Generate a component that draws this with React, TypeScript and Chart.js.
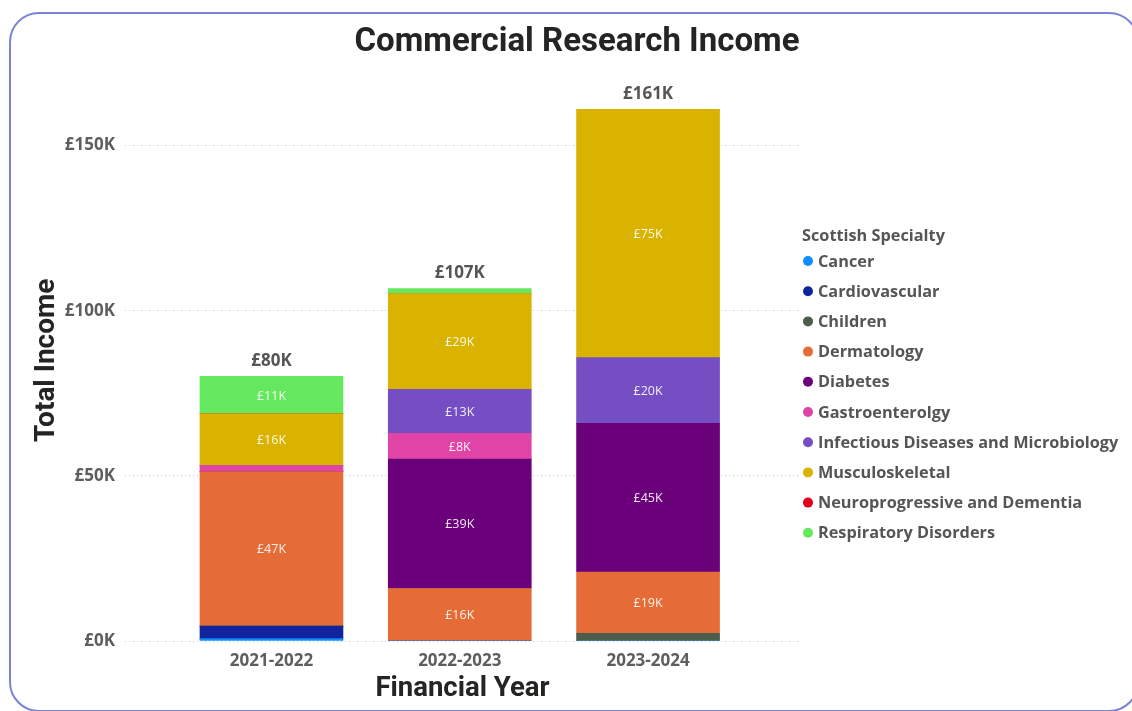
import React, { useEffect, useRef } from "react";
import { Chart, registerables } from "chart.js";

Chart.register(...registerables);

// ---- data (values in £ thousands) ----
const categories = ["2021-2022", "2022-2023", "2023-2024"];
const specialties = [
  "Cancer",
  "Cardiovascular",
  "Children",
  "Dermatology",
  "Diabetes",
  "Gastroenterolgy",
  "Infectious Diseases and Microbiology",
  "Musculoskeletal",
  "Neuroprogressive and Dementia",
  "Respiratory Disorders",
];
const specialtyColors = [
  "#118DFF",
  "#12239E",
  "#4A5E4B",
  "#E66C37",
  "#6B007B",
  "#E044A7",
  "#744EC2",
  "#D9B300",
  "#E3001A",
  "#66E85E",
];
const cancer = [0.7, 0, 0];
const cardiovascular = [3.8, 0, 0];
const children = [0, 0, 2.3];
const dermatology = [46.8, 15.9, 18.6];
const diabetes = [0, 39.2, 45.0];
const gastroenterology = [1.8, 7.8, 0];
const infectious = [0, 13.3, 19.9];
const musculoskeletal = [15.7, 29.0, 75.2];
const neuroprogressive = [0, 0, 0];
const respiratory = [11.3, 1.5, 0];
const seriesValues = [
  cancer,
  cardiovascular,
  children,
  dermatology,
  diabetes,
  gastroenterology,
  infectious,
  musculoskeletal,
  neuroprogressive,
  respiratory,
];
const yTicks = [0, 50, 100, 150];
const yMax = 170;
const labelThreshold = 5;

const TEXT_GRAY = "#605E5C";
const UI_FONT = '"Open Sans"';
const TITLE_FONT = "Roboto";

const fmtK = (v: number) => "£" + Math.round(v) + "K";

const overlayPlugin = {
  id: "overlay",
  afterDatasetsDraw(chart: any) {
    const ctx = chart.ctx;
    ctx.save();
    // segment labels
    ctx.textAlign = "center";
    ctx.textBaseline = "middle";
    ctx.font = `400 12.5px ${UI_FONT}`;
    ctx.fillStyle = "rgba(255,255,255,0.9)";
    chart.data.datasets.forEach((ds: any, di: number) => {
      const meta = chart.getDatasetMeta(di);
      meta.data.forEach((el: any, i: number) => {
        const v = ds.data[i].y;
        if (v >= labelThreshold) {
          ctx.fillText(fmtK(v), el.x, (el.y + el.base) / 2 + 1);
        }
      });
    });
    // totals
    ctx.font = `700 17px ${UI_FONT}`;
    ctx.fillStyle = "#555";
    const yScale = chart.scales.y;
    const xScale = chart.scales.x;
    categories.forEach((_, i) => {
      const total = seriesValues.reduce((s, arr) => s + arr[i], 0);
      ctx.fillText(fmtK(total), xScale.getPixelForValue(i), yScale.getPixelForValue(total) - 15);
    });
    ctx.restore();
  },
  afterDraw(chart: any) {
    const ctx = chart.ctx;
    const area = chart.chartArea;
    ctx.save();
    // title
    ctx.textAlign = "center";
    ctx.textBaseline = "middle";
    ctx.fillStyle = "#252423";
    ctx.font = `700 33px ${TITLE_FONT}`;
    ctx.fillText("Commercial Research Income", 577, 43);
    // legend
    ctx.textAlign = "left";
    ctx.font = `700 16.3px ${UI_FONT}`;
    ctx.fillStyle = "#555";
    const lx = area.right + 2;
    ctx.fillText("Scottish Specialty", lx, 236);
    chart.data.datasets.forEach((ds: any, i: number) => {
      const y = 262 + i * 30.2;
      ctx.beginPath();
      ctx.arc(lx + 6, y - 1, 5, 0, Math.PI * 2);
      ctx.fillStyle = ds.backgroundColor;
      ctx.fill();
      ctx.fillStyle = "#555";
      ctx.fillText(ds.label, lx + 16, y);
    });
    ctx.restore();
  },
};

export default function App() {
  const ref = useRef<HTMLCanvasElement | null>(null);

  useEffect(() => {
    if (!ref.current) return;
    const chart = new Chart(ref.current, {
      type: "bar",
      data: {
        datasets: specialties.map((name, si) => ({
          label: name,
          data: seriesValues[si].map((v, i) => ({ x: i, y: v })),
          backgroundColor: specialtyColors[si],
          borderWidth: 0,
          barThickness: 143,
        })),
      },
      options: {
        animation: false,
        responsive: false,
        devicePixelRatio: 1,
        layout: { padding: { top: 79.5, right: 332, bottom: 0, left: 0 } },
        plugins: {
          legend: { display: false },
          title: { display: false },
          tooltip: { enabled: false },
        },
        scales: {
          x: {
            type: "linear",
            stacked: true,
            offset: false,
            min: -0.778,
            max: 2.807,
            afterBuildTicks: (s: any) => {
              s.ticks = categories.map((_, i) => ({ value: i }));
            },
            afterFit: (s: any) => {
              s.height = 70;
            },
            ticks: {
              callback: (v: any) => categories[v] ?? "",
              font: { family: UI_FONT, size: 17, weight: "bold" },
              color: TEXT_GRAY,
              padding: 2,
              maxRotation: 0,
              autoSkip: false,
            },
            grid: { display: false },
            border: { display: false },
            title: {
              display: true,
              text: "Financial Year",
              font: { family: TITLE_FONT, size: 27.5, weight: "bold" },
              color: "#252423",
              padding: { top: 0, bottom: 5 },
            },
          },
          y: {
            stacked: true,
            min: 0,
            max: yMax,
            afterBuildTicks: (s: any) => {
              s.ticks = yTicks.map((v) => ({ value: v }));
            },
            afterFit: (s: any) => {
              s.width = 125;
            },
            ticks: {
              callback: (v: any) => "£" + v + "K",
              font: { family: UI_FONT, size: 17, weight: "bold" },
              color: TEXT_GRAY,
              padding: 10,
            },
            grid: { color: "#C8C8C8", lineWidth: 1, drawTicks: false },
            border: { display: false, dash: [1, 3] },
            title: {
              display: true,
              text: "Total Income",
              font: { family: TITLE_FONT, size: 28, weight: "bold" },
              color: "#252423",
              padding: { top: 30, bottom: 0 },
            },
          },
        },
      },
      plugins: [overlayPlugin],
    } as any);
    return () => chart.destroy();
  }, []);

  return (
    <div
      style={{
        position: "fixed",
        left: 0,
        top: 0,
        width: 1132,
        height: 711,
        overflow: "hidden",
        background: "#fff",
      }}
    >
      <div
        style={{
          position: "absolute",
          left: 9,
          top: 12,
          width: 1130,
          height: 700,
          border: "2px solid #7B84D4",
          borderRadius: 30,
          boxSizing: "border-box",
        }}
      />
      <canvas
        ref={ref}
        width={1132}
        height={711}
        style={{ position: "absolute", left: 0, top: 0, width: 1132, height: 711 }}
      />
    </div>
  );
}
